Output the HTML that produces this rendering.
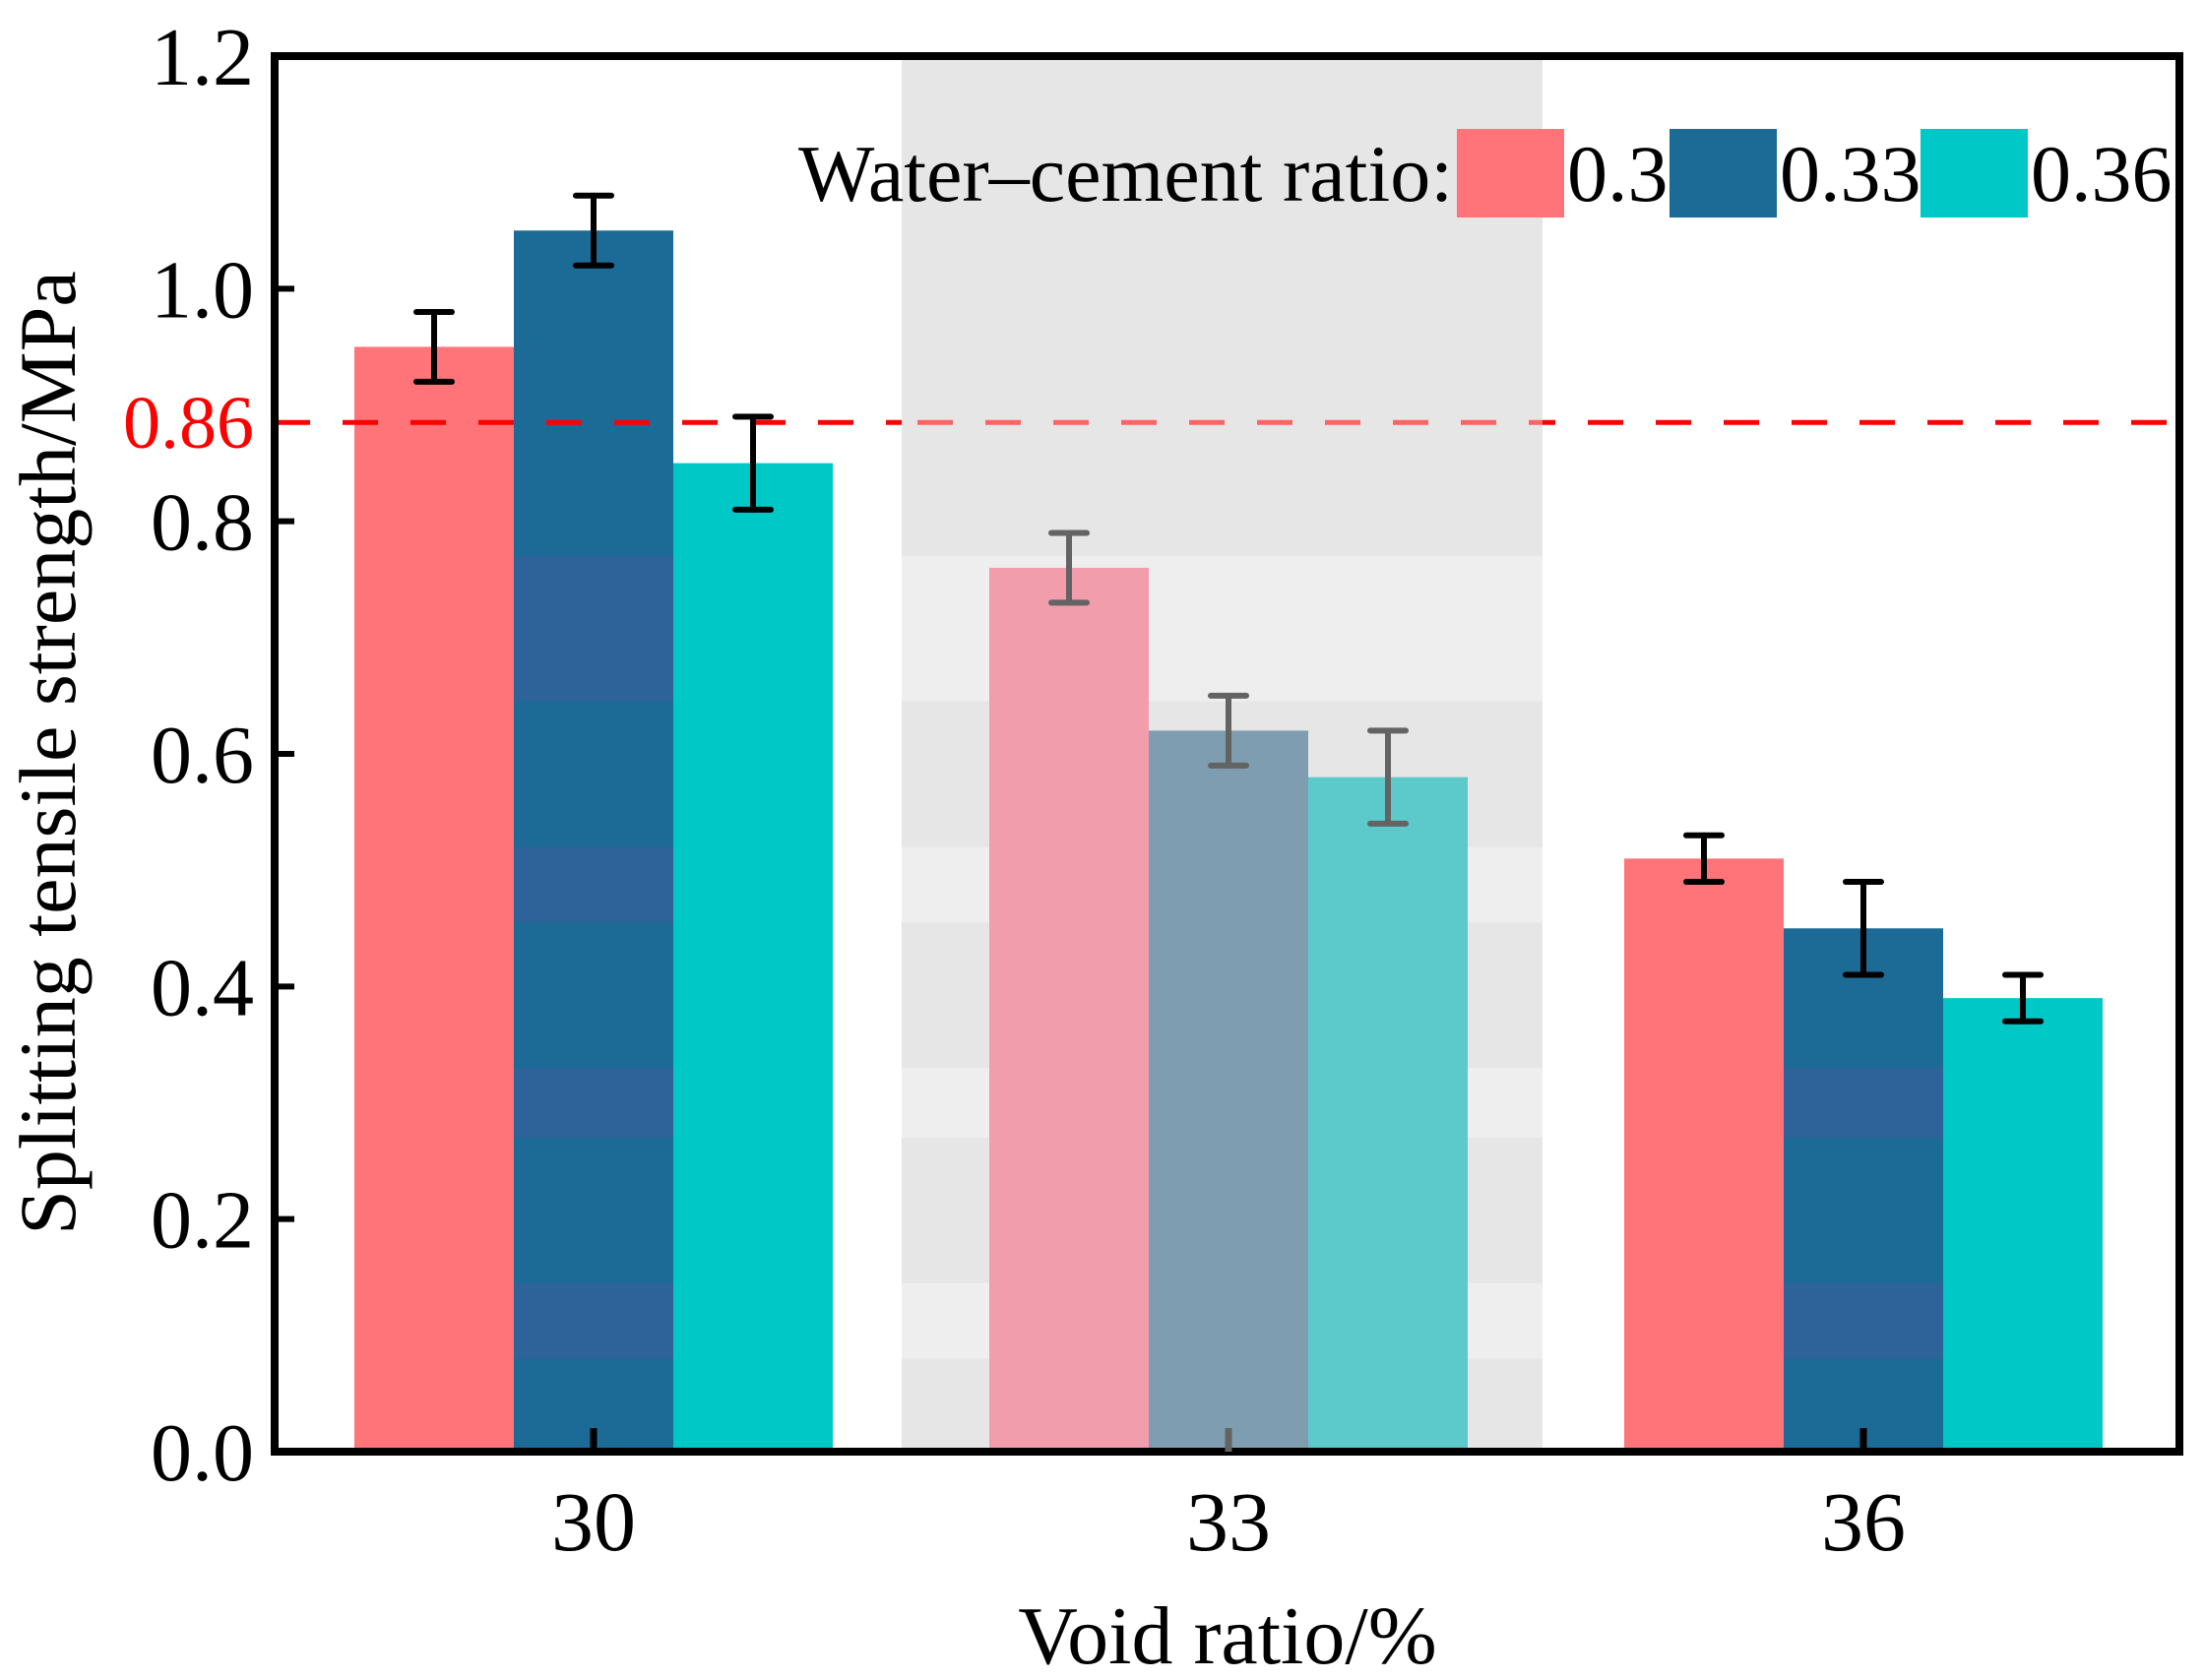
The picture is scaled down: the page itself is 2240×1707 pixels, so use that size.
<!DOCTYPE html>
<html><head><meta charset="utf-8">
<style>
html,body{margin:0;padding:0;background:#fff;}
svg{display:block;font-family:"Liberation Serif","Times New Roman",serif;}
</style></head>
<body>
<svg id="chart" width="2240" height="1707" viewBox="0 0 2240 1707" xmlns="http://www.w3.org/2000/svg">
</svg>
<script>
const categories = ["30", "33", "36"];
const seriesNames = ["0.3", "0.33", "0.36"];
const series03 = [0.95, 0.76, 0.51];
const series033 = [1.05, 0.62, 0.45];
const series036 = [0.85, 0.58, 0.39];
const err03 = [0.03, 0.03, 0.02];
const err033 = [0.03, 0.03, 0.04];
const err036 = [0.04, 0.04, 0.02];
const yTicks = [0.0, 0.2, 0.4, 0.6, 0.8, 1.0, 1.2];
const refValue = 0.885;
const refLabel = "0.86";

const NS = "http://www.w3.org/2000/svg";
const svg = document.getElementById("chart");
const L = 279, R = 2214, T = 57, B = 1475;
const yMax = 1.2;
function yS(v){ return B - v / yMax * (B - T); }
const centers = [603, 1247, 1893];
function xCenter(i){ return centers[0] + (centers[2] - centers[0]) / 2 * i; }
const barW = 162;

function el(tag, attrs, parent){
  const e = document.createElementNS(NS, tag);
  for (const k in attrs) e.setAttribute(k, attrs[k]);
  (parent || svg).appendChild(e);
  return e;
}

const band = el("g", {});


const bx0 = 916, bx1 = 1567;
el("rect", {x: bx0, y: T, width: bx1 - bx0, height: B - T, fill: "#e6e6e6"}, band);
const stripes = [[0.77,0.645],[0.52,0.455],[0.33,0.27],[0.145,0.08]];
stripes.forEach(s => {
  el("rect", {x: bx0, y: yS(s[0]), width: bx1 - bx0, height: yS(s[1]) - yS(s[0]), fill: "#eeeeee"}, band);
});

const colorsNormal = ["#ff7479", "#1c6a96", "#00c8c6"];
const colorsBand = ["#f29dab", "#7f9db0", "#5ccaca"];
const allSeries = [series03, series033, series036];
const allErr = [err03, err033, err036];

for (let s = 0; s < 3; s++){
  for (let i = 0; i < categories.length; i++){
    const v = allSeries[s][i];
    const x = xCenter(i) + (s - 1) * barW - barW / 2;
    const r = el("rect", {x: x, y: yS(v), width: barW, height: B - yS(v), fill: i === 1 ? colorsBand[s] : colorsNormal[s]});
    
    
    if (s === 1 && i !== 1) {
      stripes.forEach(st => {
        const top = Math.max(yS(st[0]), yS(v));
        const bot = yS(st[1]);
        if (bot > top) el("rect", {x: x, y: top, width: barW, height: bot - top, fill: "#2d6399"});
      });
    }
  }
}

const ry = yS(refValue);
const refG = el("g", {});


el("line", {x1: L, y1: ry, x2: bx0, y2: ry, stroke: "#ff0000", "stroke-width": 5, "stroke-dasharray": "36 33"}, refG);
el("line", {x1: bx0, y1: ry, x2: bx1, y2: ry, stroke: "#ff6464", "stroke-width": 5, "stroke-dasharray": "36 33", "stroke-dashoffset": -((bx0 - L) % 69)}, refG);
el("line", {x1: bx1, y1: ry, x2: R, y2: ry, stroke: "#ff0000", "stroke-width": 5, "stroke-dasharray": "36 33", "stroke-dashoffset": -((bx1 - L) % 69)}, refG);
const rl = el("text", {x: 258, y: ry + 26, "text-anchor": "end", "font-size": 76, fill: "#ff0000"});
rl.textContent = refLabel;



for (let s = 0; s < 3; s++){
  for (let i = 0; i < categories.length; i++){
    const v = allSeries[s][i], e = allErr[s][i];
    const cx = xCenter(i) + (s - 1) * barW;
    const col = i === 1 ? "#636363" : "#000";
    const g = el("g", {stroke: col, "stroke-width": 6, "stroke-linecap": "round"});
    
    
    el("line", {x1: cx, y1: yS(v + e), x2: cx, y2: yS(v - e)}, g);
    el("line", {x1: cx - 18, y1: yS(v + e), x2: cx + 18, y2: yS(v + e)}, g);
    el("line", {x1: cx - 18, y1: yS(v - e), x2: cx + 18, y2: yS(v - e)}, g);
  }
}

const frame = el("rect", {x: L, y: T, width: R - L, height: B - T, fill: "none", stroke: "#000", "stroke-width": 8});



yTicks.forEach(t => {
  const y = yS(t);
  el("line", {x1: L, y1: y, x2: L + 20, y2: y, stroke: "#000", "stroke-width": 6});
  const tx = el("text", {x: 258, y: y + 29, "text-anchor": "end", "font-size": 84});
  tx.textContent = t.toFixed(1);
  
  
});

categories.forEach((c, i) => {
  const x = xCenter(i);
  el("line", {x1: x, y1: B, x2: x, y2: B - 24, stroke: i === 1 ? "#636363" : "#000", "stroke-width": 7});
  const tx = el("text", {x: x, y: 1575, "text-anchor": "middle", "font-size": 86});
  tx.textContent = c;
  
  
});

const xt = el("text", {x: 1247, y: 1690, "text-anchor": "middle", "font-size": 84});
xt.textContent = "Void ratio/%";


const yt = el("text", {x: 0, y: 0, "text-anchor": "middle", "font-size": 82, transform: "translate(76,765) rotate(-90)"});
yt.textContent = "Splitting tensile strength/MPa";



const lg = el("g", {});


const lt = el("text", {x: 1476, y: 204, "text-anchor": "end", "font-size": 82}, lg);
lt.textContent = "Water\u2013cement ratio:";


const swX = [1480, 1696, 1951];
for (let s = 0; s < 3; s++){
  const sw = el("rect", {x: swX[s], y: 131, width: 109, height: 90, fill: colorsNormal[s]}, lg);
  
  
  const tx = el("text", {x: swX[s] + 112, y: 204, "font-size": 82}, lg);
  tx.textContent = seriesNames[s];
  
  
}
</script>
</body></html>
